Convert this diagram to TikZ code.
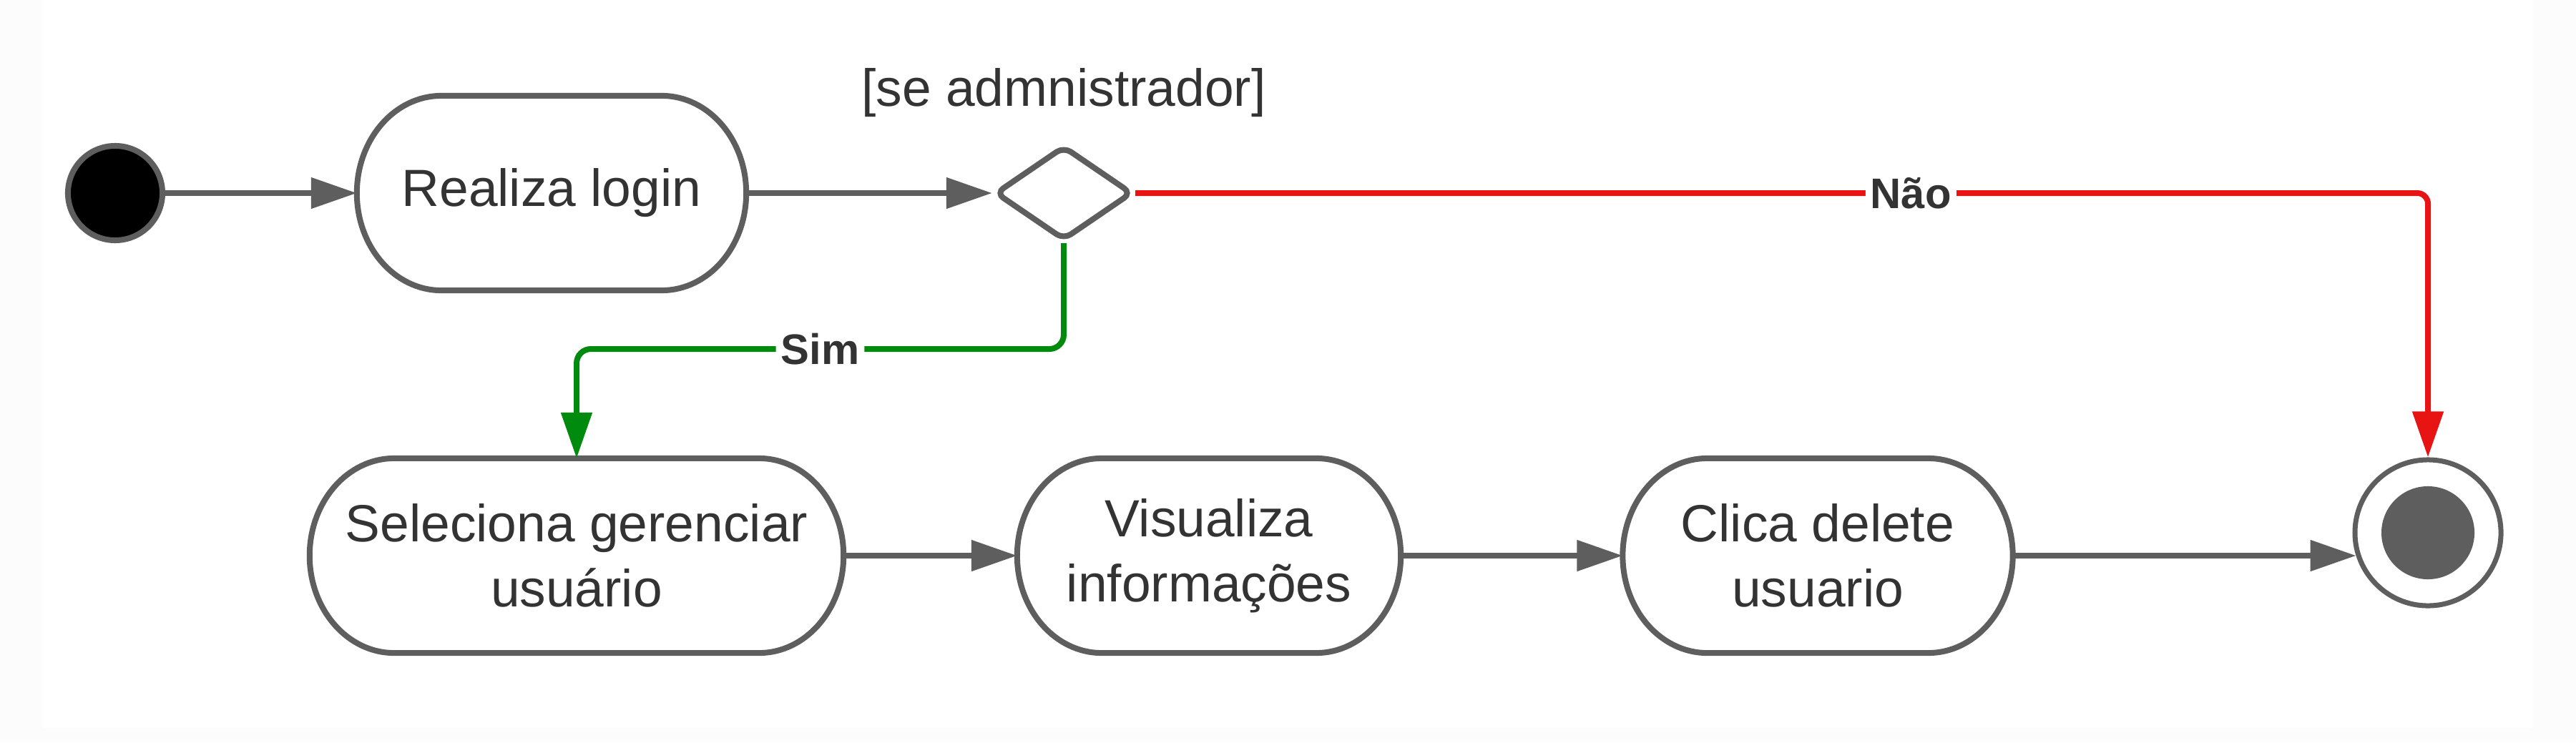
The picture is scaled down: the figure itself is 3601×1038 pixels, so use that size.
\documentclass[tikz,border=0pt]{standalone}
\usepackage{fontspec}
\setmainfont{Liberation Sans}
\usetikzlibrary{arrows.meta,shapes.geometric,calc}
\definecolor{lgray}{HTML}{5E5E5E}
\definecolor{txt}{HTML}{333333}
\definecolor{nred}{HTML}{E81313}
\definecolor{ngreen}{HTML}{008A0E}
\definecolor{bggray}{HTML}{FCFCFC}
\newcommand\actpath[1]{%
  \draw[line] ([xshift=1.18cm]#1.north west) -- ([xshift=-1.18cm]#1.north east)
    arc[start angle=90,end angle=-90,x radius=1.18cm,y radius=1.36cm]
    -- ([xshift=1.18cm]#1.south west)
    arc[start angle=270,end angle=90,x radius=1.18cm,y radius=1.36cm] -- cycle;}
\begin{document}
\begin{tikzpicture}[x=0.01cm,y=0.01cm,
  line/.style={draw=lgray,line width=0.08cm},
  arr/.style={line,-{Triangle[length=0.64cm,width=0.42cm]}},
  act/.style={draw=none,inner sep=0,outer sep=0,minimum height=2.72cm,align=center,
    font=\fontsize{20.8}{25.9}\selectfont,text=txt},
  lbl/.style={fill=white,inner sep=2pt,font=\fontsize{17}{20}\selectfont\bfseries,text=txt}]
\useasboundingbox (0,0) rectangle (3601,1038);
\fill[bggray] (0,0) rectangle (3601,1038);
\fill[white] (60,20) rectangle (3540,1038);

% nodes
\node[circle,draw=lgray,fill=black,line width=0.08cm,minimum size=1.32cm,inner sep=0] (start) at (161,768) {};
\node[act,minimum width=5.44cm] (login) at (771,768) {Realiza login};
\actpath{login}
\node[diamond,draw=lgray,line width=0.08cm,minimum width=1.92cm,minimum height=1.32cm,inner sep=0,rounded corners=0.12cm] (dec) at (1487,768) {};
\node[font=\fontsize{20.8}{25.9}\selectfont,text=txt] (guard) at (1487,908) {[se admnistrador]};

\node[act,minimum width=7.46cm] (sel) at (806,261) {Seleciona gerenciar\\usuário};
\actpath{sel}
\node[act,minimum width=5.36cm] (vis) at (1690,261) {Visualiza\\informações};
\actpath{vis}
\node[act,minimum width=5.45cm] (cli) at (2541,261) {Clica delete\\usuario};
\actpath{cli}

\node[circle,draw=lgray,line width=0.07cm,minimum size=2.04cm,inner sep=0] (final) at (3394,293) {};
\node[circle,fill=lgray,minimum size=1.30cm,inner sep=0] (finalin) at (final.center) {};

\coordinate (gturn) at (806,550);

% connectors
\draw[arr] (start) -- (login);
\draw[arr] (login) -- (dec);
\draw[arr,draw=nred,rounded corners=0.15cm] (dec.east) -| node[lbl,pos=0.3] {Não} (final.north);
\draw[arr,draw=ngreen,rounded corners=0.2cm] (dec.south) |- node[lbl,pos=0.75] {Sim} (gturn) -- (sel.north);
\draw[arr] (sel) -- (vis);
\draw[arr] (vis) -- (cli);
\draw[arr] (cli.east) -- (cli.east -| final.198.5);
\end{tikzpicture}
\end{document}
